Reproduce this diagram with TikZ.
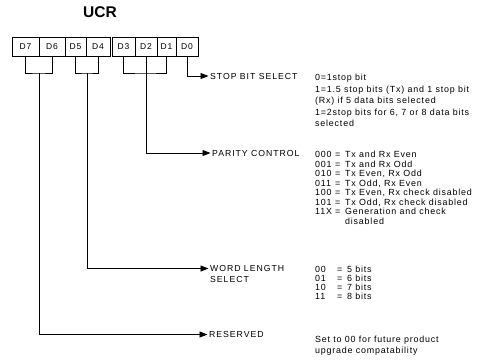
\documentclass[tikz,border=0pt]{standalone}
\usepackage{fontspec}
\setmainfont{Liberation Sans}
\newfontfamily\lab[LetterSpace=11]{Liberation Sans}
\newfontfamily\dsc[LetterSpace=9]{Liberation Sans}
\usetikzlibrary{arrows.meta}
\begin{document}
\begin{tikzpicture}[x=1pt,y=-1pt,
  cell/.style={draw,line width=0.9pt,minimum height=19pt,inner sep=0pt,font=\lab\fontsize{8.5}{9}\selectfont},
  wire/.style={line width=0.9pt},
  arr/.style={wire,-{Triangle[length=8pt,width=6pt]}},
  lbl/.style={anchor=base west,inner xsep=1.5pt,inner ysep=0pt,font=\lab\fontsize{8.7}{9}\selectfont},
  dtx/.style={anchor=base west,inner sep=0pt,font=\dsc\fontsize{8.9}{9}\selectfont}]
\useasboundingbox (0,0) rectangle (497,360);
\node[font=\bfseries\fontsize{15.5}{16}\selectfont,inner sep=0pt] (title) at (100,12) {UCR};
% register cells
\node[cell,minimum width=27pt] (d7) at (25.5,47) {D7};
\node[cell,minimum width=26pt] (d6) at (52,47) {D6};
\node[cell,minimum width=21pt] (d5) at (75.5,47) {D5};
\node[cell,minimum width=24pt] (d4) at (98,47) {D4};
\node[cell,minimum width=23pt] (d3) at (123.5,47) {D3};
\node[cell,minimum width=22pt] (d2) at (146,47) {D2};
\node[cell,minimum width=19pt] (d1) at (166.5,47) {D1};
\node[cell,minimum width=22pt] (d0) at (187,47) {D0};
% bracket joints
\coordinate (b76) at (39,73);
\coordinate (b54) at (87,73);
\coordinate (b31) at (146,73);
\draw[wire] (d7.south) |- (b76) -| (d6.south);
\draw[wire] (d5.south) |- (b54) -| (d4.south);
\draw[wire] (d3.south) |- (b31) -| (d1.south);
\draw[wire] (d2.south) -- (b31);
% labels
\node[lbl] (stop) at (208.5,79) {STOP BIT SELECT};
\node[lbl] (par) at (210.5,156) {PARITY CONTROL};
\node[lbl] (wl) at (208.5,271.5) {WORD LENGTH};
\node[lbl] (wl2) at (208.5,282) {SELECT};
\node[lbl] (res) at (207.5,337.5) {RESERVED};
% connectors
\draw[arr] (d0.south) |- (stop.west);
\draw[arr] (b31) |- (par.west);
\draw[arr] (b54) |- (wl.west);
\draw[arr] (b76) |- (res.west);
% stop bit text
\node[dtx] (s1) at (315,80) {0=1stop bit};
\node[dtx] (s2) at (315,92) {1=1.5 stop bits (Tx) and 1 stop bit};
\node[dtx] (s3) at (315,103.5) {(Rx) if 5 data bits selected};
\node[dtx] (s4) at (315,115) {1=2stop bits for 6, 7 or 8 data bits};
\node[dtx] (s5) at (315,126.5) {selected};
% parity text
\foreach \c/\d/\y [count=\i] in {000/{Tx and Rx Even}/157, 001/{Tx and Rx Odd}/167, 010/{Tx Even, Rx Odd}/176, 011/{Tx Odd, Rx Even}/186, 100/{Tx Even, Rx check disabled}/195, 101/{Tx Odd, Rx check disabled}/205, 11X/{Generation and check}/214}
  \node[dtx] (p\i) at (315,\y) {\makebox[20pt][l]{\c}\makebox[10pt][l]{=}\d};
\node[dtx] (p8) at (345,224) {disabled};
% word length text
\foreach \c/\d/\y [count=\i] in {00/5 bits/272, 01/6 bits/281, 10/7 bits/290, 11/8 bits/299}
  \node[dtx] (w\i) at (315,\y) {\makebox[22pt][l]{\c}\makebox[10pt][l]{=}\d};
% reserved text
\node[dtx] (r1) at (315,342) {Set to 00 for future product};
\node[dtx] (r2) at (315,353) {upgrade compatability};
\end{tikzpicture}
\end{document}
